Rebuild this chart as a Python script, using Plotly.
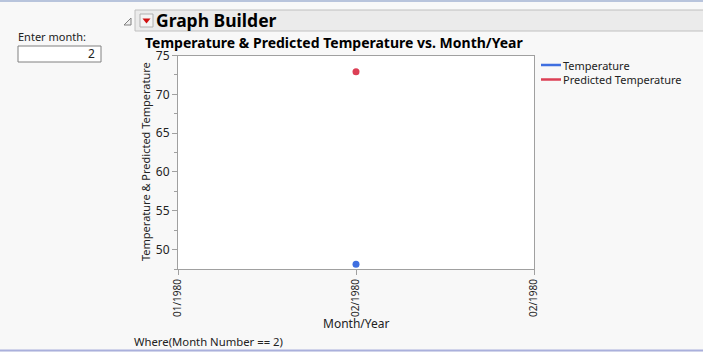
import plotly.graph_objects as go

# Data
months = [1]                    # position on the month axis (02/1980)
temperature = [48.1]
predicted_temperature = [72.9]
x_tick_vals = [0, 1, 2]
x_tick_labels = ["01/1980", "02/1980", "02/1980"]
y_tick_vals = [50, 55, 60, 65, 70, 75]

W, H = 703, 352
FONT = "Noto Sans"
def px(x):
    return x / W
def py(y):
    return 1 - y / H

fig = go.Figure()
fig.add_trace(go.Scatter(x=months, y=temperature, mode="markers", name="Temperature",
                         marker=dict(color="#3f6fe0", size=7), showlegend=False))
fig.add_trace(go.Scatter(x=months, y=predicted_temperature, mode="markers", name="Predicted Temperature",
                         marker=dict(color="#dc3f55", size=7), showlegend=False))

axis_col = "#a0a0a0"
fig.update_layout(
    width=W, height=H, autosize=False, showlegend=False,
    margin=dict(l=0, r=0, t=0, b=0, pad=0, autoexpand=False),
    paper_bgcolor="#f8f8f8", plot_bgcolor="#ffffff",
    font=dict(family=FONT, size=12, color="#222222"),
    xaxis=dict(domain=[px(178), px(534)], range=[0, 2], tickvals=x_tick_vals, ticktext=x_tick_labels,
               tickangle=-90, showgrid=False, zeroline=False, showline=True, linecolor=axis_col,
               mirror=True, ticks="outside", ticklen=5, tickcolor=axis_col, automargin=False,
               tickfont=dict(family=FONT, size=10, color="#222222")),
    yaxis=dict(domain=[py(269), py(55.5)], range=[47.5, 75], tickvals=y_tick_vals,
               showgrid=False, zeroline=False, showline=True, linecolor=axis_col, mirror=True,
               ticks="outside", ticklen=5, tickcolor=axis_col, automargin=False,
               minor=dict(dtick=2.5, tick0=0, ticks="outside", ticklen=3, tickcolor=axis_col),
               tickfont=dict(family=FONT, size=12, color="#222222")),
)

shapes = []
# top and bottom window lines
shapes.append(dict(type="line", xref="paper", yref="paper", x0=0, x1=1, y0=py(1), y1=py(1),
                   line=dict(color="#b8c4dc", width=2)))
shapes.append(dict(type="line", xref="paper", yref="paper", x0=0, x1=1, y0=py(350.5), y1=py(350.5),
                   line=dict(color="#aab0dc", width=2)))
# header bar
shapes.append(dict(type="rect", xref="paper", yref="paper", x0=px(135), x1=px(704), y0=py(31), y1=py(10),
                   fillcolor="#ebebeb", line=dict(color="#c0c0c0", width=1)))
# disclosure triangle
shapes.append(dict(type="path", xref="paper", yref="paper",
                   path=f"M {px(124)} {py(25)} L {px(131)} {py(25)} L {px(131)} {py(18)} Z",
                   fillcolor="#f0f0f0", line=dict(color="#808080", width=1)))
# red dropdown button
shapes.append(dict(type="rect", xref="paper", yref="paper", x0=px(140), x1=px(153), y0=py(27), y1=py(14),
                   fillcolor="#f4f4f4", line=dict(color="#b0b0b0", width=1)))
shapes.append(dict(type="path", xref="paper", yref="paper",
                   path=f"M {px(142.5)} {py(18.5)} L {px(150.5)} {py(18.5)} L {px(146.5)} {py(23.5)} Z",
                   fillcolor="#d01010", line=dict(color="#d01010", width=0)))
# input box
shapes.append(dict(type="rect", xref="paper", yref="paper", x0=px(18), x1=px(101), y0=py(62), y1=py(46),
                   fillcolor="#ffffff", line=dict(color="#808080", width=1)))
# legend swatches
shapes.append(dict(type="line", xref="paper", yref="paper", x0=px(541), x1=px(561), y0=py(65), y1=py(65),
                   line=dict(color="#3f6fe0", width=2.5)))
shapes.append(dict(type="line", xref="paper", yref="paper", x0=px(541), x1=px(561), y0=py(79.5), y1=py(79.5),
                   line=dict(color="#dc3f55", width=2.5)))

ann = []
def text(x, y, s, size=12, bold=False, xanchor="left", color="#222222", angle=0):
    ann.append(dict(xref="paper", yref="paper", x=px(x), y=py(y), text=f"<b>{s}</b>" if bold else s,
                    showarrow=False, xanchor=xanchor, yanchor="middle", textangle=angle,
                    font=dict(family=FONT, size=size, color=color)))

text(154, 20, "Graph Builder", size=17.5, bold=True, color="#000000")
text(334, 42.5, "Temperature &amp; Predicted Temperature vs. Month/Year", size=14, bold=True,
     xanchor="center", color="#000000")
text(16, 36, "Enter month:", size=11)
text(97, 53.5, "2", size=12, xanchor="right")
text(561, 65, "Temperature", size=11)
text(561, 79.5, "Predicted Temperature", size=11)
text(132, 341, "Where(Month Number == 2)", size=11.3)
text(356, 323, "Month/Year", size=12, xanchor="center")
text(145, 162, "Temperature &amp; Predicted Temperature", size=11, xanchor="center", angle=-90)

fig.update_layout(shapes=shapes, annotations=ann)
fig.write_html("out.html", post_script="document.body.style.margin='0';")
